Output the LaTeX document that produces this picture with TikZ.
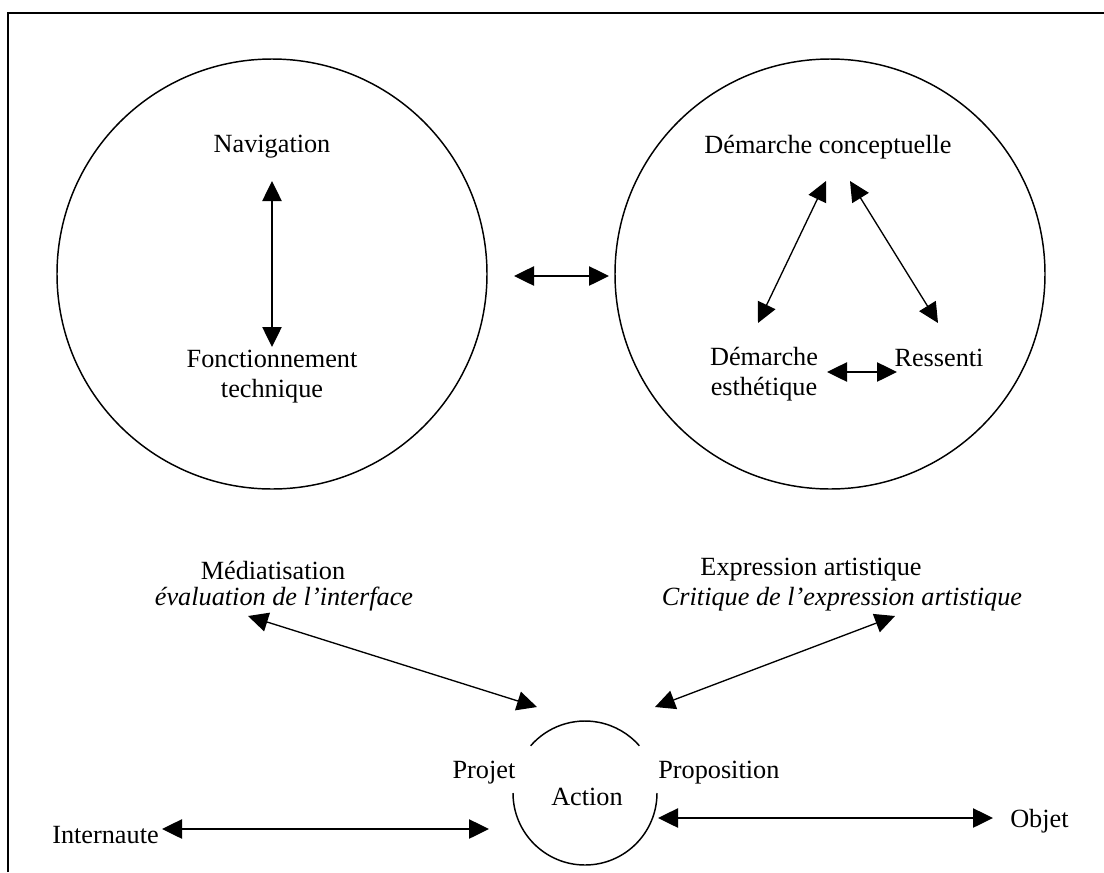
\documentclass[tikz,border=0pt]{standalone}
\usepackage{fontspec}
\setmainfont{Liberation Serif}
\usetikzlibrary{arrows.meta}
\begin{document}
\begin{tikzpicture}[x=0.75pt,y=-0.75pt,
  lbl/.style={font=\fontsize{19.7}{22.5}\selectfont, inner sep=0pt, align=center},
  dbl/.style={line width=1pt, {Triangle[length=15pt,width=14.5pt]}-{Triangle[length=15pt,width=14.5pt]}},
  ring/.style={line width=1.1pt}]
\useasboundingbox (0,0) rectangle (1104,872);
\draw[line width=1.5pt] (8,872) -- (8,13) -- (1104,13);
% circles
\draw[ring] (272,274) circle (215);
\draw[ring] (830,274) circle (215);
% left circle content
\node[lbl] (nav) at (272,147) {Navigation};
\node[lbl] (fonc) at (272,377) {Fonctionnement\\technique};
\coordinate (navA) at (272,181);
\coordinate (foncA) at (272,347);
\draw[dbl] (navA) -- (foncA);
% middle
\coordinate (midL) at (514,276);
\coordinate (midR) at (609,276);
\draw[dbl] (midL) -- (midR);
% right circle content
\node[lbl] (conc) at (828,147) {Démarche conceptuelle};
\node[lbl] (esth) at (764,374) {Démarche\\esthétique};
\node[lbl] (ress) at (939,358) {Ressenti};
\coordinate (concL) at (826,181);
\coordinate (concR) at (850,181);
\coordinate (esthT) at (758,323);
\coordinate (ressT) at (938,323);
\coordinate (esthR) at (827,372);
\coordinate (ressL) at (897,372);
\draw[dbl] (concL) -- (esthT);
\draw[dbl] (concR) -- (ressT);
\draw[dbl] (esthR) -- (ressL);
% labels
\node[lbl] (med) at (273,570) {Médiatisation};
\node[lbl] (eval) at (284,599) {\itshape évaluation de l’interface};
\node[lbl] (expr) at (811,570) {Expression artistique};
\node[lbl] (crit) at (842,599) {\itshape Critique de l’expression artistique};
\coordinate (medA) at (248,616);
\coordinate (actL) at (537,707);
\coordinate (critA) at (895,616);
\coordinate (actR) at (655,707);
\draw[dbl] (medA) -- (actL);
\draw[dbl] (critA) -- (actR);
% action circle (y axis points down, so 270 is up)
\draw[ring] (585,793) ++(221:72) arc (221:319:72);
\draw[ring] (585,793) ++(0:72) arc (0:180:72);
\node[lbl] (action) at (587,797) {Action};
\node[lbl] (projet) at (484,773) {Projet};
\node[lbl, anchor=west] (prop) at (658,773) {Proposition};
\node[lbl, anchor=west] (inter) at (52,835) {Internaute};
\node[lbl, anchor=west] (objet) at (1010,821) {Objet};
\coordinate (interA) at (162,829);
\coordinate (actW) at (489,829);
\coordinate (actE) at (658,818);
\coordinate (objA) at (993,818);
\draw[dbl] (interA) -- (actW);
\draw[dbl] (actE) -- (objA);
\end{tikzpicture}
\end{document}
